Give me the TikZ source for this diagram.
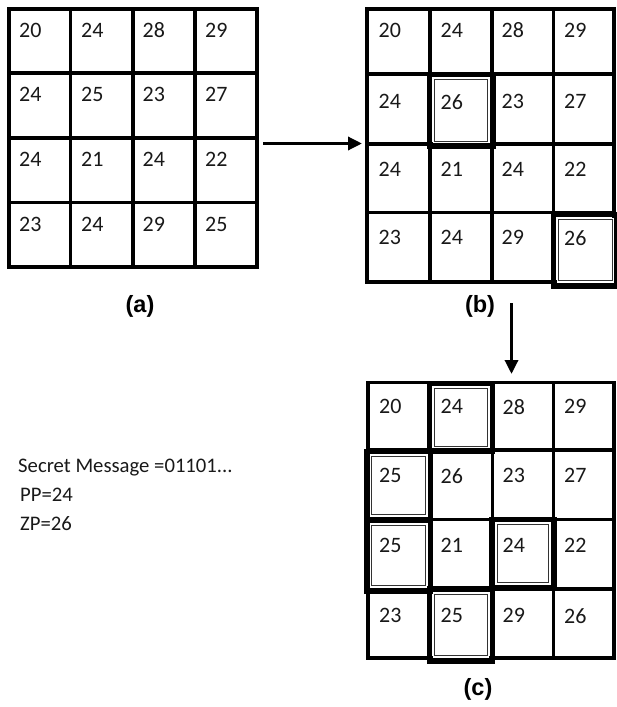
\documentclass[tikz,border=0pt]{standalone}
\usepackage{fontspec}
\setmainfont{Carlito}
\newfontfamily\labelfont{Liberation Sans}
\usetikzlibrary{arrows.meta}

% grid of cell values: #1 name prefix, #2 array of text x positions,
% #3 list of  text-top-y/{values of the row}
\newcommand\numgrid[3]{%
  \foreach \ty/\vals [count=\r from 0] in {#3} {
    \foreach \v [count=\c from 0] in \vals {
      \pgfmathsetmacro\tx{{#2}[\c]}
      \node[num] (#1-\r-\c) at (\tx,\ty) {\v};
    }
  }%
}
% marked cell: thick frame with an inner white gap and a thin inner rule
\newcommand\markcell[4]{%
  \draw[hlband] (#1,#2) rectangle (#3,#4);
  \draw[hlgap] (#1+3.8,#2+3.8) rectangle (#3-3.8,#4-3.8);
  \draw[hlinner] (#1+5.1,#2+5.1) rectangle (#3-5.1,#4-5.1);
}

\begin{document}
\begin{tikzpicture}[x=1pt,y=-1pt,
  gridline/.style={line width=3.7pt, line cap=rect},
  hlband/.style={line width=5.8pt},
  hlgap/.style={white, line width=1.5pt},
  hlinner/.style={line width=1pt, black!80},
  num/.style={anchor=north west, inner sep=0pt,
    font=\fontsize{22}{26}\selectfont, text=black!90},
  caption/.style={inner sep=0pt,
    font=\labelfont\bfseries\fontsize{23.5}{28}\selectfont},
  msg/.style={anchor=base west, inner sep=0pt,
    font=\fontsize{20.7}{24}\selectfont, text=black!90},
  flow/.style={line width=3.3pt, -{Triangle[length=14pt,width=13pt]}}
]
\useasboundingbox (0,0) rectangle (616,707);
\fill[white] (0,0) rectangle (616,707);

% ---- grid (a)
\foreach \gx in {8.7,70.5,133,195,256.7} { \draw[gridline] (\gx,9) -- (\gx,266.7); }
\foreach \gy in {9,73,138,202.5,266.7} { \draw[gridline] (8.7,\gy) -- (256.7,\gy); }
\numgrid{a}{19,81,142.5,205}{22.7/{20,24,28,29}, 87.3/{24,25,23,27}, 151.7/{24,21,24,22}, 216.7/{23,24,29,25}}

% ---- grid (b)
\foreach \gx in {366.7,430,492,553.5,614} { \draw[gridline] (\gx,9) -- (\gx,281.7); }
\foreach \gy in {9,74,144,212.5,281.7} { \draw[gridline] (366.7,\gy) -- (614,\gy); }
\markcell{429.5}{74.5}{493}{146.5}
\markcell{553.5}{214.5}{617.5}{286}
\numgrid{b}{378.5,440.5,501.5,564}{22.7/{20,24,28,29}, 94/{24,26,23,27}, 162.5/{24,21,24,22}, 230.5/{23,24,29,26}}

% ---- grid (c)
\foreach \gx in {368,430,492.5,553.5,614} { \draw[gridline] (\gx,382.5) -- (\gx,658.3); }
\foreach \gy in {382.5,450,519.5,589,658.3} { \draw[gridline] (368,\gy) -- (614,\gy); }
\markcell{429.5}{383.5}{492.5}{451.5}
\markcell{366.5}{451.5}{430.5}{519.5}
\markcell{366.5}{520}{430.5}{591}
\markcell{492}{519.5}{554}{588}
\markcell{429.5}{589}{492.5}{661}
\numgrid{c}{379,440.5,502.5,564}{399.5/{20,24,28,29}, 468.5/{25,26,23,27}, 538.5/{25,21,24,22}, 608.5/{23,25,29,26}}

% ---- captions
\node[caption] (capA) at (140,306) {(a)};
\node[caption] (capB) at (480,306) {(b)};
\node[caption] (capC) at (478,689) {(c)};

% ---- flow arrows
\coordinate (aOut) at (263,143.5);
\coordinate (bIn) at (362,143.5);
\draw[flow] (aOut) -- (bIn);
\coordinate (bOut) at (511.5,303);
\coordinate (cIn) at (511.5,374);
\draw[flow] (bOut) -- (cIn);

% ---- message and parameters
\node[msg] (secret) at (18,472) {Secret Message =01101...};
\node[msg] (pp) at (20,501) {PP=24};
\node[msg] (zp) at (20,530) {ZP=26};
\end{tikzpicture}
\end{document}
